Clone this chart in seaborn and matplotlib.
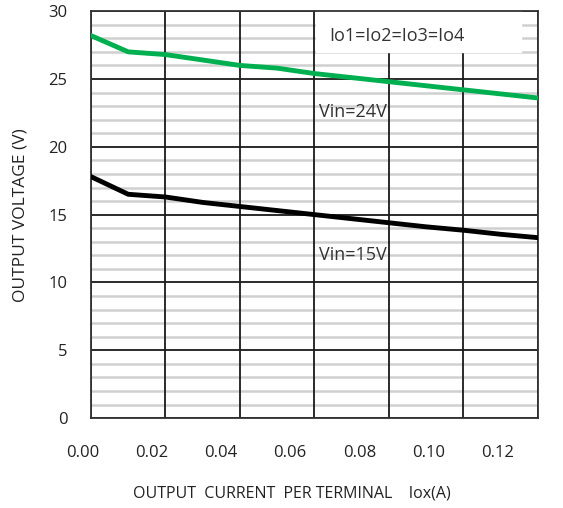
import numpy as np
import pandas as pd
import seaborn as sns
import matplotlib
matplotlib.use('Agg')
import matplotlib.pyplot as plt
import matplotlib.transforms as mtransforms
from matplotlib.ticker import MultipleLocator

current = [0.00, 0.01, 0.02, 0.03, 0.04, 0.05, 0.06, 0.07, 0.08, 0.09, 0.10, 0.11, 0.12]
v_24 = [28.2, 27.0, 26.8, 26.4, 26.0, 25.8, 25.4, 25.1, 24.8, 24.5, 24.2, 23.9, 23.6]
v_15 = [17.8, 16.5, 16.3, 15.9, 15.6, 15.3, 15.0, 14.7, 14.4, 14.1, 13.85, 13.55, 13.3]
x_tick_labels = ['0.00', '0.02', '0.04', '0.06', '0.08', '0.10', '0.12']

df = pd.DataFrame({
    'current': current * 2,
    'voltage': v_24 + v_15,
    'vin': ['Vin=24V'] * len(current) + ['Vin=15V'] * len(current),
})

sns.set_style('white')
plt.rcParams['font.family'] = ['Open Sans', 'DejaVu Sans']

fig = plt.figure(figsize=(5.63, 5.08), dpi=100)
ax = fig.add_axes([0.1616, 0.177, 0.794, 0.801])

sns.lineplot(data=df, x='current', y='voltage', hue='vin',
             palette={'Vin=24V': '#00b050', 'Vin=15V': '#000000'},
             linewidth=3.5, legend=False, ax=ax, zorder=5)

ax.set_xlim(0, 0.12)
ax.set_ylim(0, 30)
ax.xaxis.set_major_locator(MultipleLocator(0.02))
ax.yaxis.set_major_locator(MultipleLocator(5))
ax.set_xticklabels([])

# the labels in the original sit on a slightly narrower spacing than the grid
trans = mtransforms.blended_transform_factory(ax.transData, ax.transAxes)
for i, lab in enumerate(x_tick_labels):
    ax.text(-0.0023 + 0.01858 * i, -0.086, lab, transform=trans, fontsize=12,
            color='#222222', ha='center', va='center')

# light minor lines every 1 V, kept under the black major grid
for v in range(1, 30):
    if v % 5:
        ax.axhline(v, color='#d0d0d0', linewidth=1.8, zorder=0.2)

ax.grid(which='major', axis='both', color='#1a1a1a', linewidth=1.3)
ax.set_axisbelow(True)
ax.tick_params(which='both', length=0)
ax.tick_params(axis='y', pad=17, labelsize=12, labelcolor='#222222')
for s in ax.spines.values():
    s.set_color('#333333')
    s.set_linewidth(1.3)

# white box behind the condition label
ax.axvspan(0.0603, 0.1155, ymin=27.0 / 30, ymax=1.0, color='white', zorder=0.6)
ax.text(0.064, 28.15, 'Io1=Io2=Io3=Io4', fontsize=13, color='#333333', va='center', zorder=6)
ax.text(0.0612, 22.6, 'Vin=24V', fontsize=13, color='#333333', va='center', zorder=6)
ax.text(0.0612, 12.0, 'Vin=15V', fontsize=13, color='#333333', va='center', zorder=6)

ax.set_xlabel('OUTPUT  CURRENT  PER TERMINAL    Iox(A)', fontsize=11.5, color='#222222')
ax.xaxis.set_label_coords(0.449, -0.165)
ax.set_ylabel('OUTPUT VOLTAGE (V)', fontsize=12.5, color='#222222', labelpad=14)

fig.savefig('out.png', dpi=100)
